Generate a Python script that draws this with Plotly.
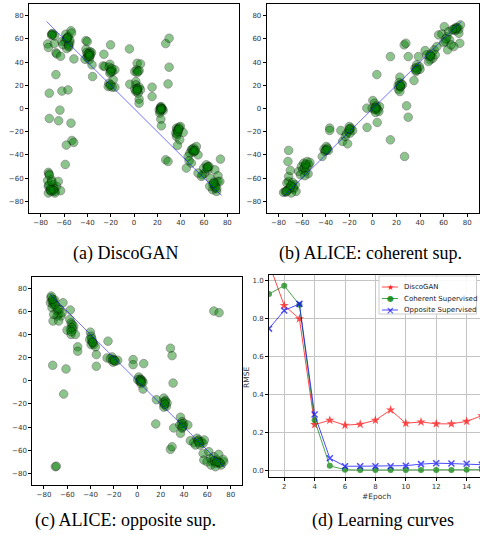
import plotly.graph_objects as go

# ---------------- data ----------------
# (a) DiscoGAN scatter
a_x = [-74.0, -73.4, -70.6, -69.7, -68.3, -66.9, -66.3, -62.9, -61.8, -58.4, -57.7, -56.3, -54.0, -54.9, -55.8,
       -57.7, -51.5, -53.5, -59.0, -61.0, -55.0, -70.0, -68.0, -56.0, -57.5, -57.0, -56.0, -70.5,
       -66.9, -72.6, -61.8, -56.6, -63.5, -72.6, -64.6, -54.0, -53.2, -51.7, -58.0, -58.9,
       -73.4, -72.9, -74.0, -73.4, -72.0, -73.4, -70.6, -69.2, -69.7, -67.7, -66.3, -64.9, -62.9, -67.7, -71.4,
       -70.0, -72.5, -68.5, -71.0, -73.0, -70.5, -69.0, -71.5,
       -41.2, -40.1, -41.2, -40.6, -39.2, -37.8, -36.4, -40.1, -37.8, -38.4, -36.0, -35.5, -42.0, -37.2, -39.0, -38.5,
       -39.5, -38.0,
       -25.8, -20.1, -26.4, -25.0, -20.7, -21.2, -19.8, -18.4, -20.7, -16.4, -17.8, -21.5, -20.7, -18.7, -16.4, -22.1,
       -19.5, -20.0, -19.0, -20.0,
       -3.9, -3.6, 1.6, 2.7, 5.6, 2.1, 4.4, 0.7, 2.7, 1.6, 2.7, 4.4, 1.6, 5.6, 3.6, 4.4, 4.4, 0.7, 3.0, 3.5, 3.0, 2.5,
       15.5, 15.5, 27.2, 30.1, 30.1, 29.2, 27.2, 29.2,
       22.7, 23.8, 21.6, 25.0, 23.2, 22.1, 23.0, 23.5, 24.4, 23.0, 22.5, 23.5, 23.0,
       36.4, 38.7, 39.8, 35.8, 37.8, 36.4, 42.1, 39.2, 37.2, 36.9, 38.0, 37.0, 37.5, 38.5,
       49.2, 51.2, 53.5, 52.0, 47.8, 46.4, 54.9, 44.9, 49.2, 47.2, 50.6, 51.5, 50.0, 51.0, 52.5,
       62.0, 64.3, 63.4, 60.6, 58.6, 57.7, 65.6, 69.3, 74.1, 72.0, 70.0, 72.0, 67.7, 69.3, 67.4, 70.8, 73.6, 64.9,
       59.7, 54.9, 63.0, 62.5, 69.0, 71.0, 68.5, 63.5, 70.0, 68.0]
a_y = [55.6, 52.5, 64.0, 63.7, 56.0, 48.0, 47.0, 45.0, 57.6, 64.0, 60.5, 62.0, 67.0, 56.8, 53.0,
       51.6, 42.7, 65.0, 58.0, 55.0, 59.0, 64.5, 62.5, 55.5, 60.0, 61.0, 54.0, 63.0,
       29.2, 13.2, 15.0, 16.0, -1.4, -8.6, -10.6, -12.6, -27.5, -29.2, -31.5, -48.2,
       -55.0, -56.5, -62.0, -67.0, -70.5, -72.8, -61.4, -65.7, -70.0, -71.4, -67.0, -62.8, -70.8, -72.8, -68.6,
       -69.5, -57.5, -69.0, -71.5, -66.0, -63.0, -70.5, -70.0,
       58.5, 57.6, 51.0, 48.2, 46.0, 49.0, 48.2, 44.0, 44.7, 42.0, 37.6, 27.5, 42.4, 46.8, 45.0, 47.5,
       47.0, 45.5,
       46.7, 54.8, 36.7, 36.1, 38.1, 35.6, 33.3, 31.8, 30.4, 33.3, 24.7, 21.8, 19.5, 18.4, 18.4, 18.9,
       32.5, 20.5, 34.5, 31.5,
       51.3, 20.9, 23.2, 39.0, 38.4, 33.3, 32.7, 31.8, 30.9, 20.4, 17.5, 18.4, 14.6, 16.1, 13.2, 8.0, 4.6, 16.6, 16.0, 32.0,
       17.0, 15.5,
       18.4, 10.3, 55.9, 60.5, 35.6, 21.2, -44.2, -45.6,
       1.1, -0.6, -1.1, -1.7, 1.7, -4.0, -9.2, -14.9, -0.3, 0.5, -2.0, 0.0, -1.0,
       -16.9, -16.1, -15.5, -21.2, -20.6, -24.1, -20.6, -27.0, -31.8, -18.4, -18.0, -22.0, -19.5, -17.5,
       -35.6, -34.1, -32.7, -37.0, -38.4, -41.3, -39.9, -51.3, -47.0, -45.0, -36.1, -36.5, -35.0, -37.5, -36.0,
       -48.5, -49.9, -52.8, -55.6, -57.1, -58.5, -60.0, -52.8, -43.6, -57.9, -64.2, -62.8, -65.7, -68.5, -70.0, -71.4,
       -62.8, -67.0, -51.3, -55.6, -50.5, -51.5, -66.0, -69.0, -63.5, -50.0, -67.5, -64.5]

# (b) ALICE: coherent supervision scatter
b_x = [-75.7, -74.3, -72.0, -70.0, -68.6, -71.4, -72.9, -67.1, -65.1, -69.1, -65.7, -71.4, -70.0, -72.0, -71.4,
       -68.0, -73.5, -70.5, -67.5, -73.0, -69.5,
       -62.9, -60.6, -58.6, -57.1, -55.7, -54.3, -59.4, -57.1, -54.9, -61.4, -53.4, -57.7, -58.0, -56.0, -57.0,
       -41.4, -39.4, -40.6, -37.7, -42.9, -36.6, -36.6, -38.6, -40.0, -39.0,
       -27.1, -25.7, -21.4, -23.4, -20.0, -18.6, -20.6, -17.1, -22.3, -19.4, -19.5, -20.0,
       -5.1, -4.9, 3.4, 3.7, 14.9, 14.9, 26.6, 28.0, 30.0, 28.6, 30.0, 26.9,
       0.0, 1.4, 2.9, -0.6, 1.4, 4.3, 5.7, 2.3, 5.1, 3.0, 2.0, 2.5,
       22.9, 22.3, 24.3, 21.4, 23.4, 25.1, 21.7, 22.9, 23.5, 23.0,
       35.7, 37.1, 39.4, 36.6, 38.6, 34.9, 40.0, 37.7, 37.0, 36.5,
       44.3, 45.7, 48.0, 50.0, 52.0, 48.6, 47.1, 54.3, 50.9, 52.9, 49.0, 48.5,
       55.7, 58.6, 60.6, 62.9, 61.4, 63.4, 65.1, 68.6, 70.9, 72.9, 74.3, 72.9, 73.7, 68.6, 66.3, 70.0, 64.3, 60.0,
       69.5, 71.5, 62.0, 70.5, 67.5]
b_y = [-72.3, -71.4, -70.0, -67.0, -65.7, -62.8, -64.2, -69.4, -71.4, -72.8, -65.7, -58.5, -53.3, -45.6, -36.1,
       -63.7, -72.0, -69.0, -68.0, -71.0, -66.5,
       -54.2, -49.9, -47.0, -49.3, -45.6, -48.5, -52.8, -54.2, -56.2, -57.1, -46.4, -57.9, -51.0, -50.5, -48.0,
       -35.0, -32.7, -37.0, -36.1, -41.3, -16.9, -18.9, -34.1, -36.0, -35.5,
       -18.9, -28.4, -30.4, -24.1, -15.5, -16.9, -19.8, -18.9, -21.8, -21.2, -18.0, -17.5,
       0.3, -16.3, 29.2, -12.0, -27.0, 44.7, 54.8, 56.2, 44.7, 2.3, -7.5, -41.3,
       6.9, 4.6, 2.3, 0.3, -1.1, -1.1, 1.7, -3.4, -2.6, 0.5, 1.0, -0.5,
       27.0, 22.4, 21.2, 19.5, 18.4, 20.4, 16.6, 14.6, 19.0, 20.0,
       34.7, 37.6, 36.1, 31.8, 44.7, 24.1, 33.8, 33.3, 35.0, 33.0,
       49.9, 46.2, 44.7, 47.6, 50.5, 41.9, 40.4, 53.3, 43.3, 46.2, 45.0, 46.0,
       63.4, 64.2, 70.5, 61.9, 57.6, 50.5, 59.1, 67.7, 70.0, 68.3, 72.0, 64.8, 56.2, 53.3, 54.8, 67.1, 66.2, 56.8,
       69.0, 69.5, 60.0, 68.5, 68.0]

# (c) ALICE: opposite supervision scatter
c_x = [-74.0, -73.1, -74.5, -72.2, -70.8, -70.2, -73.1, -68.8, -67.4, -66.5, -65.4, -68.8, -72.2, -67.4, -64.5,
       -63.7, -71.7, -73.7, -72.0, -70.5, -72.5, -68.0,
       -72.5, -61.1, -63.1, -70.2, -69.4,
       -57.4, -57.9, -56.8, -55.9, -54.5, -57.4, -55.1, -56.8, -53.1, -60.2, -51.1, -51.1, -56.0, -56.5,
       -40.2, -39.6, -40.8, -38.8, -37.4, -39.6, -35.9, -35.1, -35.1, -37.9, -25.1, -39.0, -38.5,
       -25.9, -21.6, -20.2, -18.8, -16.8, -20.8, -23.1, -21.0, -19.5,
       -3.6, -3.6, 5.5, 16.4, 15.8, 28.4, 29.8, 30.7, 28.4, 29.8, 31.2, 65.6, 70.1,
       1.2, 2.7, 4.1, 2.1, 4.9, 0.4, 3.2, 4.9, 3.0, 2.5, 3.5,
       22.7, 24.1, 22.1, 25.5, 23.2, 24.9, 22.7, 23.8, 23.5,
       37.0, 38.4, 36.4, 39.8, 43.3, 38.4, 37.0, 39.3, 38.0, 38.5,
       45.5, 48.4, 51.2, 52.7, 54.7, 56.4, 53.6, 49.8, 57.5, 52.0, 53.0,
       56.4, 57.0, 61.3, 62.7, 64.1, 65.6, 67.0, 68.4, 69.8, 70.7, 71.8, 74.1, 73.6, 59.8, 63.2, 67.0, 66.0, 69.5,
       71.0, 68.0]
c_y = [71.9, 69.0, 67.5, 66.1, 69.9, 64.7, 63.2, 60.3, 57.4, 61.8, 56.0, 56.0, 51.7, 51.7, 58.9,
       67.5, 57.4, 73.3, 68.5, 66.0, 70.5, 62.0,
       13.4, 10.3, -11.4, -74.2, -73.7,
       61.2, 53.1, 50.2, 48.8, 47.3, 44.4, 44.4, 40.1, 40.1, 43.8, 29.4, 25.6, 46.0, 42.5,
       42.1, 38.6, 35.7, 34.3, 31.4, 31.4, 29.4, 22.7, 12.6, 32.8, 34.3, 36.5, 33.5,
       19.8, 20.7, 18.4, 16.9, 17.8, 16.1, 19.0, 18.0, 17.5,
       18.4, 14.0, 14.9, -16.3, -37.2, 28.2, 21.8, -1.9, -59.2, -56.9, -40.7, 60.3, 58.9,
       3.3, 1.6, 0.4, -0.4, -1.3, 1.0, -2.5, -7.1, 1.0, 0.0, -1.0,
       -14.9, -16.9, -18.7, -19.2, -20.7, -22.1, -22.7, -18.0, -20.0,
       -31.4, -35.2, -38.1, -36.6, -38.1, -41.0, -45.3, -39.0, -37.0, -40.0,
       -51.7, -53.4, -49.6, -51.1, -52.5, -54.0, -55.4, -55.4, -51.1, -52.0, -53.5,
       -62.7, -68.4, -61.2, -67.0, -69.9, -65.5, -71.4, -68.4, -63.5, -70.8, -72.8, -69.9, -67.9, -69.9, -72.8, -74.2,
       -69.0, -70.5, -71.0, -70.0]

# reference diagonals
diag_x = [-75, 75]
diag_down = [75, -75]
diag_up = [-75, 75]

# (d) learning curves
epochs = list(range(1, 16))
rmse_discogan = [1.09, 0.87, 0.80, 0.243, 0.266, 0.24, 0.245, 0.266, 0.32, 0.25, 0.257, 0.247, 0.247, 0.26, 0.29]
rmse_coherent = [0.93, 0.974, 0.873, 0.266, 0.026, 0.006, 0.004, 0.004, 0.004, 0.004, 0.004, 0.004, 0.004, 0.005, 0.006]
rmse_opposite = [0.748, 0.843, 0.878, 0.296, 0.066, 0.024, 0.024, 0.024, 0.024, 0.027, 0.035, 0.040, 0.038, 0.037, 0.032]

series_names = ["DiscoGAN", "Coherent Supervised", "Opposite Supervised"]
series_colors = ["red", "green", "blue"]
series_glyphs = ["★", "●", "×"]

scatter_ticks = [-80, -60, -40, -20, 0, 20, 40, 60, 80]
rmse_ticks = [0.0, 0.2, 0.4, 0.6, 0.8, 1.0]
epoch_ticks = [2, 4, 6, 8, 10, 12, 14]

captions = ["(a) DiscoGAN", "(b) ALICE: coherent sup.", "(c) ALICE: opposite sup.", "(d) Learning curves"]

# ---------------- figure ----------------
W, H = 480, 535


def fx(px):
    return px / W


def fy(py):
    return 1 - py / H


fig = go.Figure()

marker_style = dict(size=8.5, color="#008000", opacity=0.45, line=dict(width=0.8, color="black"))
line_style = dict(color="rgba(0,0,255,0.55)", width=1)

panels = [
    (a_x, a_y, diag_down, "x", "y"),
    (b_x, b_y, diag_up, "x2", "y2"),
    (c_x, c_y, diag_down, "x3", "y3"),
]
for xs, ys, dy, xa, ya in panels:
    fig.add_trace(go.Scatter(x=xs, y=ys, mode="markers", marker=marker_style,
                             xaxis=xa, yaxis=ya, showlegend=False, hoverinfo="skip"))
    fig.add_trace(go.Scatter(x=diag_x, y=dy, mode="lines", line=line_style,
                             xaxis=xa, yaxis=ya, showlegend=False, hoverinfo="skip"))

curve_markers = [dict(symbol="star", size=7, color="red"),
                 dict(symbol="circle", size=6, color="green"),
                 dict(symbol="x-thin", size=6, color="blue", line=dict(width=1.5, color="blue"))]
for name, vals, col, mk in zip(series_names, [rmse_discogan, rmse_coherent, rmse_opposite],
                               series_colors, curve_markers):
    fig.add_trace(go.Scatter(x=epochs, y=vals, mode="lines+markers", name=name,
                             line=dict(color=col, width=1), opacity=0.7, marker=mk,
                             xaxis="x4", yaxis="y4", showlegend=False))

tickfont = dict(family="DejaVu Sans", size=7, color="#333333")
common = dict(showline=True, linecolor="black", linewidth=1, mirror=True, ticks="outside",
              ticklen=3, tickwidth=0.8, tickcolor="black", tickfont=tickfont,
              showgrid=False, zeroline=False)

sc_axis = dict(common, range=[-90, 90], tickvals=scatter_ticks)

fig.update_layout(
    width=W, height=H, margin=dict(l=0, r=0, t=0, b=0),
    paper_bgcolor="white", plot_bgcolor="white",
    xaxis=dict(sc_axis, domain=[fx(29), fx(239)], anchor="y"),
    yaxis=dict(sc_axis, domain=[fy(213), fy(4)], anchor="x"),
    xaxis2=dict(sc_axis, domain=[fx(266.7), fx(479)], anchor="y2"),
    yaxis2=dict(sc_axis, domain=[fy(213), fy(4)], anchor="x2"),
    xaxis3=dict(sc_axis, domain=[fx(32.3), fx(242.3)], anchor="y3"),
    yaxis3=dict(sc_axis, domain=[fy(485), fy(276.7)], anchor="x3"),
    xaxis4=dict(common, domain=[fx(269), 1.0], anchor="y4", range=[1.0, 14.88],
                tickvals=epoch_ticks, showgrid=True, gridcolor="#c4c4c4", gridwidth=1.4),
    yaxis4=dict(common, domain=[fy(476.5), fy(275)], anchor="x4", range=[-0.03, 1.03],
                tickvals=rmse_ticks, tickformat=".1f", showgrid=True, gridcolor="#c4c4c4", gridwidth=1.4),
    showlegend=False,
)

# ---- hand-built legend for panel (d) ----
shapes = [dict(type="rect", xref="paper", yref="paper", layer="above",
               x0=fx(379), x1=fx(476.5), y0=fy(314), y1=fy(276),
               fillcolor="rgba(255,255,255,0.9)", line=dict(color="#cccccc", width=1))]
ann = []
entry_y = [287, 298.5, 310]
for name, col, glyph, ey in zip(series_names, series_colors, series_glyphs, entry_y):
    shapes.append(dict(type="line", xref="paper", yref="paper", layer="above",
                       x0=fx(382), x1=fx(398), y0=fy(ey), y1=fy(ey),
                       line=dict(color=col, width=1), opacity=0.7))
    ann.append(dict(text=glyph, x=fx(390), y=fy(ey), xref="paper", yref="paper",
                    xanchor="center", yanchor="middle", showarrow=False, opacity=0.8,
                    font=dict(family="DejaVu Sans", size=8 if glyph != "×" else 10, color=col)))
    ann.append(dict(text=name, x=fx(402), y=fy(ey), xref="paper", yref="paper",
                    xanchor="left", yanchor="middle", showarrow=False,
                    font=dict(family="DejaVu Sans", size=7, color="#222222")))
fig.update_layout(shapes=shapes)

cap_font = dict(family="Liberation Serif", size=18, color="black")
for text, cx, cy in zip(captions, [125, 370, 125, 382.5], [253, 253, 520, 520]):
    ann.append(dict(text=text, x=fx(cx), y=fy(cy), xref="paper", yref="paper",
                    xanchor="center", yanchor="middle", showarrow=False, font=cap_font))
ann.append(dict(text="RMSE", x=fx(246), y=fy(377), xref="paper", yref="paper", textangle=-90,
                xanchor="center", yanchor="middle", showarrow=False,
                font=dict(family="DejaVu Sans", size=7.5, color="#333333")))
ann.append(dict(text="#Epoch", x=fx(376.7), y=fy(496), xref="paper", yref="paper",
                xanchor="center", yanchor="middle", showarrow=False,
                font=dict(family="DejaVu Sans", size=7.5, color="#333333")))
fig.update_layout(annotations=ann)

fig.write_html("out.html",
               config={"displayModeBar": False},
               post_script="document.body.style.margin='0';document.body.style.padding='0';"
                           "document.body.style.overflow='hidden';")
